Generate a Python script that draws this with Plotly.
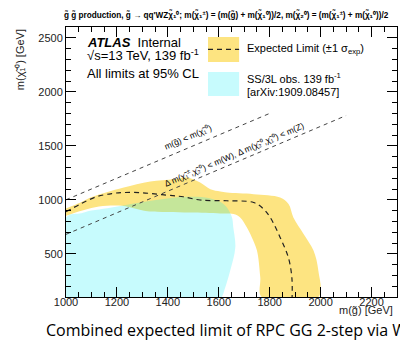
import plotly.graph_objects as go

# ---------------- data ----------------
# +-1 sigma expected band: outer (upper/right) edge, then inner (lower/left) edge
band_outer_x = [1000, 1057, 1096, 1160, 1227, 1331, 1423, 1475, 1527, 1567, 1606, 1632, 1737, 1841, 1874, 1893, 1933, 1972, 1991, 1991]
band_outer_y = [920, 975, 1021, 1070, 1113, 1169, 1191, 1206, 1160, 1098, 1077, 1067, 1052, 1021, 960, 837, 684, 530, 345, 100]
band_inner_x = [1000, 1050, 1100, 1160, 1220, 1270, 1320, 1400, 1488, 1606, 1658, 1684, 1710, 1730, 1750, 1763, 1769]
band_inner_y = [852, 892, 925, 945, 945, 920, 895, 888, 883, 874, 868, 837, 745, 652, 530, 283, 100]

# expected limit (central)
exp_x = [1000, 1060, 1122, 1180, 1225, 1292, 1357, 1420, 1461, 1527, 1632, 1737, 1775, 1802, 1841, 1873, 1887, 1888]
exp_y = [889, 965, 1030, 1058, 1067, 1066, 1052, 1038, 1028, 998, 991, 975, 917, 837, 652, 468, 283, 100]

# SS/3L observed exclusion region
ss3l_x = [1000, 1000, 1060, 1100, 1162, 1230, 1292, 1360, 1422, 1514, 1578, 1610, 1632, 1652, 1657, 1665, 1645, 1618, 1612]
ss3l_y = [100, 837, 875, 900, 922, 950, 975, 1000, 1020, 1028, 1006, 975, 929, 837, 745, 560, 345, 133, 100]

# kinematic boundary lines
kin1_x = [1000, 1800]
kin1_y = [1000, 1800]
kin2_x = [1000, 2100]
kin2_y = [680, 1780]

x_range = [1000, 2300]
y_range = [100, 2600]

FONT = "Liberation Sans, Arial, Helvetica, sans-serif"

fig = go.Figure()

band_x = band_outer_x + band_inner_x[::-1]
band_y = band_outer_y + band_inner_y[::-1]
fig.add_trace(go.Scatter(x=band_x, y=band_y, mode="lines", fill="toself",
                         fillcolor="#FDE481", line=dict(width=0), hoverinfo="skip",
                         showlegend=False, line_shape="spline"))
fig.add_trace(go.Scatter(x=ss3l_x, y=ss3l_y, mode="lines", fill="toself",
                         fillcolor="rgba(0,235,245,0.22)", line=dict(width=0),
                         hoverinfo="skip", showlegend=False, line_shape="spline"))
fig.add_trace(go.Scatter(x=exp_x, y=exp_y, mode="lines",
                         line=dict(color="#222222", width=1.2, dash="5px,4px", shape="spline"),
                         showlegend=False))
for kx, ky in ((kin1_x, kin1_y), (kin2_x, kin2_y)):
    fig.add_trace(go.Scatter(x=kx, y=ky, mode="lines",
                             line=dict(color="#444444", width=1, dash="4px,4px"),
                             showlegend=False))

axis_common = dict(showline=True, linecolor="black", linewidth=1, mirror="allticks",
                   ticks="inside", ticklen=10, tickcolor="black", tickwidth=1,
                   showgrid=False, zeroline=False,
                   tickfont=dict(family=FONT, size=11, color="#222"))
fig.update_xaxes(range=x_range, tick0=1000, dtick=200, ticklabelstandoff=-5,
                 minor=dict(dtick=50, ticks="inside", ticklen=5, tickcolor="black"),
                 **axis_common)
fig.update_yaxes(range=y_range, tick0=500, dtick=500,
                 minor=dict(dtick=100, ticks="inside", ticklen=5, tickcolor="black"),
                 **axis_common)

ann = []
# title
ann.append(dict(xref="paper", yref="paper", x=-0.012, y=1.045, xanchor="left", yanchor="middle",
                text="<b>g̃ g̃ production, g̃ → qq'WZχ̃₁⁰; m(χ̃₁<sup>±</sup>) = (m(g̃) + m(χ̃₁⁰))/2, m(χ̃₂⁰) = (m(χ̃₁<sup>±</sup>) + m(χ̃₁⁰))/2</b>",
                showarrow=False, font=dict(family=FONT, size=8.2, color="black")))
# ATLAS label
ann.append(dict(xref="paper", yref="paper", x=0.057, y=0.944, xanchor="left", yanchor="middle",
                text="<b><i>ATLAS</i></b>  Internal", showarrow=False,
                font=dict(family=FONT, size=13, color="black")))
ann.append(dict(xref="paper", yref="paper", x=0.057, y=0.895, xanchor="left", yanchor="middle",
                text="√s=13 TeV, 139 fb<sup>-1</sup>", showarrow=False,
                font=dict(family=FONT, size=13, color="black")))
ann.append(dict(xref="paper", yref="paper", x=0.057, y=0.828, xanchor="left", yanchor="middle",
                text="All limits at 95% CL", showarrow=False,
                font=dict(family=FONT, size=13, color="black")))
# legend texts
ann.append(dict(xref="paper", yref="paper", x=0.541, y=0.917, xanchor="left", yanchor="middle",
                text="Expected Limit (±1 σ<sub>exp</sub>)", showarrow=False,
                font=dict(family=FONT, size=11, color="black")))
ann.append(dict(xref="paper", yref="paper", x=0.541, y=0.811, xanchor="left", yanchor="middle",
                text="SS/3L obs. 139 fb<sup>-1</sup>", showarrow=False,
                font=dict(family=FONT, size=11, color="black")))
ann.append(dict(xref="paper", yref="paper", x=0.541, y=0.759, xanchor="left", yanchor="middle",
                text="[arXiv:1909.08457]", showarrow=False,
                font=dict(family=FONT, size=11, color="black")))
# line labels
ann.append(dict(xref="x", yref="y", x=1480, y=1578, textangle=-23,
                text="m(g̃) < m(χ̃₁⁰)", showarrow=False,
                font=dict(family=FONT, size=8.5, color="black")))
ann.append(dict(xref="x", yref="y", x=1661, y=1415, textangle=-23,
                text="Δ m(χ̃₁<sup>±</sup>,χ̃₂⁰) < m(W), Δ m(χ̃₂⁰,χ̃₁⁰) < m(Z)", showarrow=False,
                font=dict(family=FONT, size=8.5, color="black")))
# axis titles
ann.append(dict(xref="paper", yref="paper", x=-0.14, y=1.0, xanchor="center", yanchor="top",
                textangle=-90, text="m(χ̃₁⁰) [GeV]", showarrow=False,
                font=dict(family=FONT, size=11, color="#222")))
ann.append(dict(xref="paper", yref="paper", x=0.995, y=-0.047, xanchor="right", yanchor="middle",
                text="m(g̃) [GeV]", showarrow=False,
                font=dict(family=FONT, size=11, color="#222")))
# caption
ann.append(dict(xref="paper", yref="paper", x=-0.067, y=-0.122, xanchor="left", yanchor="middle",
                text="Combined expected limit of RPC GG 2-step via WZ", showarrow=False,
                font=dict(family="Open Sans, sans-serif", size=16, color="black")))

shapes = [
    dict(type="rect", xref="paper", yref="paper", x0=0.429, x1=0.523, y0=0.870, y1=0.963,
         fillcolor="#FDE481", line=dict(width=0)),
    dict(type="line", xref="paper", yref="paper", x0=0.429, x1=0.523, y0=0.917, y1=0.917,
         line=dict(color="#222", width=1.2, dash="5px,4px")),
    dict(type="rect", xref="paper", yref="paper", x0=0.429, x1=0.523, y0=0.744, y1=0.833,
         fillcolor="rgba(0,235,245,0.22)", line=dict(width=0)),
]

fig.update_layout(width=400, height=343, margin=dict(l=66, r=3, t=27, b=46),
                  paper_bgcolor="white", plot_bgcolor="white",
                  annotations=ann, shapes=shapes, showlegend=False)

fig.write_html("out.html", config={"displayModeBar": False},
               post_script="document.body.style.margin='0px';document.body.style.overflow='hidden';")
